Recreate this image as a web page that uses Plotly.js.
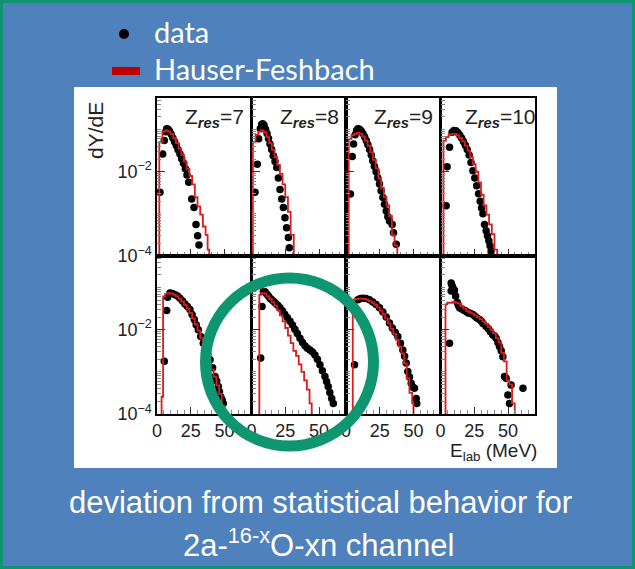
<!DOCTYPE html>
<html><head><meta charset="utf-8">
<script src="https://cdn.plot.ly/plotly-3.0.1.min.js"></script>
<style>html,body{margin:0;padding:0;background:#0E9670;} #chart{width:635px;height:569px;}</style>
</head><body><div id="chart"></div>
<script>
// ---- data (E_lab in MeV, dY/dE) ----
const zres = ['7', '8', '9', '10', '', '', '', ''];

const E_A = [2.2, 4.2, 5.4, 6.5, 7.2, 8.2, 9.3, 10.5, 11.7, 13.0, 14.3, 15.6, 17.0, 18.3, 19.6, 21.0, 22.2, 23.5, 25.7, 27.4, 28.9, 30.1, 31.1];
const Y_A = [0.00324, 0.0263, 0.0550, 0.0891, 0.105, 0.102, 0.0912, 0.0776, 0.0631, 0.0513, 0.0417, 0.0331, 0.0263, 0.0204, 0.0158, 0.0117, 0.00832, 0.00562, 0.00224, 0.00141, 0.000562, 0.000302, 0.000182];
const E_A_hf = [0.5, 1.7, 4, 6, 8, 10, 12, 14, 16, 18, 20, 22, 24, 26, 28, 30, 32, 34, 36, 37.5, 38.7];
const Y_A_hf = [1e-6, 0.0501, 0.0891, 0.0955, 0.0891, 0.0794, 0.0631, 0.0479, 0.0355, 0.0251, 0.0174, 0.0117, 0.00794, 0.00501, 0.00251, 0.00151, 0.000955, 0.000501, 0.000316, 0.000141, 1e-6];

const E_B = [2.6, 4.3, 5.3, 6.5, 7.5, 8.3, 9.3, 10.4, 11.5, 12.6, 13.7, 14.9, 16.1, 17.4, 18.7, 19.9, 21.1, 22.4, 23.6, 24.8, 26.0, 27.3, 28.0];
const Y_B = [0.00324, 0.0151, 0.0603, 0.105, 0.132, 0.138, 0.126, 0.102, 0.0813, 0.0617, 0.0457, 0.0339, 0.0240, 0.0174, 0.0126, 0.00708, 0.00380, 0.00224, 0.00141, 0.000813, 0.000468, 0.000275, 0.000158];
const E_B_hf = [0.3, 1.0, 3, 5, 7, 9, 11, 13, 15, 17, 19, 21, 23, 25, 27, 29, 31.3];
const Y_B_hf = [1e-6, 0.0501, 0.0759, 0.0912, 0.0955, 0.0871, 0.0661, 0.0479, 0.0331, 0.0224, 0.0145, 0.00891, 0.00501, 0.00251, 0.00112, 0.000316, 1e-6];

const E_C = [3.3, 4.6, 5.6, 6.8, 7.8, 8.8, 10.0, 11.2, 12.5, 13.8, 15.0, 16.2, 17.5, 18.7, 19.8, 21.0, 22.3, 23.5, 24.8, 26.0, 27.3, 28.5, 29.8, 31.0, 32.2, 34.2, 35.2, 37.2];
const Y_C = [0.00295, 0.0229, 0.0457, 0.0759, 0.0955, 0.105, 0.102, 0.0933, 0.0813, 0.0676, 0.0550, 0.0437, 0.0339, 0.0251, 0.0182, 0.0135, 0.0100, 0.00724, 0.00513, 0.00355, 0.00245, 0.00170, 0.00117, 0.000851, 0.000676, 0.000562, 0.000355, 0.000191];
const E_C_hf = [1, 2, 4, 6, 8, 10, 12, 14, 16, 18, 20, 22, 24, 26, 28, 30, 32, 34, 36, 38];
const Y_C_hf = [1e-6, 0.0603, 0.0741, 0.0794, 0.0832, 0.0794, 0.0692, 0.0550, 0.0417, 0.0288, 0.0191, 0.0120, 0.00708, 0.00417, 0.00251, 0.00158, 0.000891, 0.000316, 0.000178, 1e-6];

const E_D = [4.2, 4.9, 6.7, 8.6, 10.0, 11.4, 12.8, 14.2, 15.6, 17.0, 18.4, 19.8, 21.2, 22.6, 24.0, 25.4, 26.8, 28.2, 29.4, 30.4, 31.4, 32.6, 33.8, 34.8, 35.8, 36.7, 37.5];
const Y_D = [0.00155, 0.0132, 0.0380, 0.0871, 0.0955, 0.0933, 0.0851, 0.0741, 0.0631, 0.0525, 0.0427, 0.0339, 0.0251, 0.0166, 0.0105, 0.00708, 0.00468, 0.00302, 0.00200, 0.00138, 0.00100, 0.000562, 0.000398, 0.000302, 0.000229, 0.000174, 0.000132];
const E_D_hf = [1.5, 2.2, 4, 6, 8, 10, 12, 14, 16, 18, 20, 22, 24, 26, 28, 30, 32, 34, 36, 38, 40, 42];
const Y_D_hf = [1e-6, 0.0550, 0.0661, 0.0759, 0.0794, 0.0794, 0.0724, 0.0631, 0.0525, 0.0417, 0.0316, 0.0224, 0.0151, 0.0100, 0.00562, 0.00282, 0.00158, 0.000955, 0.000562, 0.000331, 0.000141, 1e-6];

const E_E = [5.4, 7.2, 7.9, 9.6, 11.5, 13.4, 15.2, 17.0, 18.9, 20.7, 22.6, 24.4, 26.0, 27.6, 29.0, 30.6, 32.4, 34.3, 36.0, 37.6, 39.3, 41.2, 43.0, 44.2, 45.4, 46.3, 47.2, 48.2, 49.1];
const Y_E = [0.00178, 0.0288, 0.0589, 0.0741, 0.0724, 0.0676, 0.0631, 0.0562, 0.0479, 0.0407, 0.0355, 0.0302, 0.0229, 0.0174, 0.0132, 0.0100, 0.00692, 0.00479, 0.00355, 0.00263, 0.00195, 0.00126, 0.000776, 0.000603, 0.000447, 0.000339, 0.000257, 0.000219, 0.000178];
const E_E_hf = [2.5, 3.4, 4.5, 6, 8, 10, 12, 14, 16, 18, 20, 22, 24, 26, 28, 30, 32, 34, 36, 38, 40, 42, 44, 46, 48, 50];
const Y_E_hf = [1e-6, 0.000257, 0.0617, 0.0708, 0.0741, 0.0724, 0.0676, 0.0617, 0.0550, 0.0468, 0.0389, 0.0316, 0.0251, 0.0186, 0.0135, 0.00955, 0.00631, 0.00398, 0.00263, 0.00174, 0.00115, 0.000759, 0.000479, 0.000302, 0.000158, 1e-6];

const E_F = [6.8, 7.8, 8.8, 10.0, 11.3, 12.5, 13.7, 15.0, 16.4, 17.8, 19.4, 21.1, 22.8, 24.6, 26.5, 28.5, 30.3, 32.1, 33.9, 35.9, 37.8, 39.6, 41.4, 43.3, 45.2, 47.0, 48.8, 50.7, 52.5, 54.4, 55.6, 56.8, 58.0, 59.4, 60.6];
const Y_F = [0.00214, 0.0355, 0.0813, 0.0794, 0.0708, 0.0631, 0.0562, 0.0513, 0.0468, 0.0427, 0.0380, 0.0331, 0.0282, 0.0234, 0.0195, 0.0158, 0.0129, 0.0102, 0.00813, 0.00631, 0.00501, 0.00417, 0.00363, 0.00331, 0.00295, 0.00251, 0.00200, 0.00148, 0.00107, 0.000776, 0.000589, 0.000447, 0.000324, 0.000234, 0.000178];
const E_F_hf = [4.5, 5.8, 7, 9, 11, 13, 15, 17, 19, 21, 23, 25, 27, 29, 31, 33, 35, 37, 39, 41, 43, 44.6];
const Y_F_hf = [1e-6, 0.0676, 0.0741, 0.0724, 0.0631, 0.0537, 0.0447, 0.0372, 0.0288, 0.0219, 0.0158, 0.0110, 0.00724, 0.00479, 0.00316, 0.00240, 0.00151, 0.00100, 0.000631, 0.000380, 0.000178, 1e-6];

const E_G = [6.3, 8.8, 10.6, 12.5, 14.9, 17.4, 19.8, 22.3, 24.8, 27.3, 29.8, 32.2, 34.3, 36.4, 38.4, 40.3, 42.1, 43.4, 44.6, 45.8, 47.0, 48.3, 49.5, 50.7, 52.0, 52.4];
const Y_G = [0.00148, 0.0513, 0.0550, 0.0562, 0.0550, 0.0513, 0.0457, 0.0398, 0.0331, 0.0263, 0.0200, 0.0145, 0.0110, 0.00871, 0.00692, 0.00479, 0.00331, 0.00234, 0.00162, 0.00102, 0.000759, 0.000537, 0.000437, 0.000407, 0.000234, 0.000178];
const E_G_hf = [3.8, 5, 7, 9, 11, 13, 15, 17, 19, 21, 23, 25, 27, 29, 31, 33, 35, 37, 39, 41, 43, 45, 47, 49, 50];
const Y_G_hf = [1e-6, 0.0513, 0.0537, 0.0550, 0.0550, 0.0537, 0.0513, 0.0479, 0.0437, 0.0389, 0.0339, 0.0288, 0.0234, 0.0186, 0.0141, 0.0105, 0.00794, 0.00575, 0.00398, 0.00275, 0.00158, 0.000708, 0.000316, 0.000178, 1e-6];

const E_H = [6.7, 7.9, 8.5, 9.1, 7.9, 10.3, 11.2, 12.4, 13.2, 14.1, 15.5, 17.0, 18.2, 19.0, 20.5, 22.0, 24.0, 25.5, 27.0, 28.9, 30.3, 31.5, 33.8, 35.5, 37.0, 38.7, 40.0, 41.2, 42.5, 43.7, 45.0, 46.2, 47.4, 48.6, 49.9, 51.1, 52.3, 61.1];
const Y_H = [0.00479, 0.129, 0.112, 0.100, 0.0832, 0.0871, 0.0631, 0.0447, 0.0380, 0.0331, 0.0316, 0.0295, 0.0282, 0.0275, 0.0251, 0.0245, 0.0229, 0.0209, 0.0191, 0.0174, 0.0158, 0.0141, 0.0120, 0.0105, 0.00891, 0.00759, 0.00708, 0.00631, 0.00501, 0.00398, 0.00316, 0.00229, 0.000776, 0.000708, 0.000282, 0.000178, 0.000490, 0.000407];
const E_H_hf = [2.5, 3.7, 5, 7, 9, 11, 13, 15, 17, 19, 21, 23, 25, 27, 29, 31, 33, 35, 37, 39, 41, 43, 45, 47, 49, 51, 53, 55];
const Y_H_hf = [1e-6, 0.0398, 0.0437, 0.0437, 0.0457, 0.0437, 0.0417, 0.0363, 0.0316, 0.0282, 0.0263, 0.0240, 0.0219, 0.0200, 0.0178, 0.0158, 0.0138, 0.0117, 0.0100, 0.00832, 0.00631, 0.00501, 0.00282, 0.00178, 0.000631, 0.000501, 0.000178, 1e-6];

const xTickVals = [0, 25, 50];
const xTickText = ['0', '25', '50'];
const yTickVals = [1e-4, 1e-2];
const yTickText = ['10<sup>\u22124</sup>', '10<sup>\u22122</sup>'];

const panels = [
  [E_A, Y_A, E_A_hf, Y_A_hf], [E_B, Y_B, E_B_hf, Y_B_hf],
  [E_C, Y_C, E_C_hf, Y_C_hf], [E_D, Y_D, E_D_hf, Y_D_hf],
  [E_E, Y_E, E_E_hf, Y_E_hf], [E_F, Y_F, E_F_hf, Y_F_hf],
  [E_G, Y_G, E_G_hf, Y_G_hf], [E_H, Y_H, E_H_hf, Y_H_hf]
];

// ---- geometry (pixels) ----
const W = 635, H = 569;
const fx = v => v / W, fy = v => 1 - v / H;
const left = 157, colW = 94.5, rowTops = [98, 256], rowH = 158;
const RED = '#dc1c1c';
const SANS = 'Liberation Sans, Arial, sans-serif';
const TICKFONT = {family: SANS, size: 18, color: '#222'};

const xMinor = []; for (let v = 5; v < 70; v += 5) if (v % 25) xMinor.push(v);
const yMinor = []; for (let d = -4; d <= -1; d++) for (let k = 1; k <= 9; k++) { const v = k * Math.pow(10, d); if (v < 0.56 && !(k === 1 && (d === -4 || d === -2))) yMinor.push(v); }

const traces = [];
const layout = {
  width: W, height: H, margin: {l: 0, r: 0, t: 0, b: 0},
  paper_bgcolor: '#0E9670', plot_bgcolor: 'white',
  showlegend: false, shapes: [], annotations: []
};

panels.forEach((p, i) => {
  const col = i % 4, row = Math.floor(i / 4);
  const sfx = i === 0 ? '' : String(i + 1);
  const xa = 'x' + sfx, ya = 'y' + sfx;
  traces.push({x: p[0], y: p[1], xaxis: xa, yaxis: ya, type: 'scatter', mode: 'markers',
    marker: {color: 'black', size: 7.5}, hoverinfo: 'skip'});
  traces.push({x: p[2], y: p[3], xaxis: xa, yaxis: ya, type: 'scatter', mode: 'lines',
    line: {shape: 'hv', color: RED, width: 1.8}, hoverinfo: 'skip'});
  const x0 = left + col * colW, y0 = rowTops[row];
  layout['xaxis' + sfx] = {
    domain: [fx(x0), fx(x0 + colW)], anchor: ya, range: [0, 70],
    tickmode: 'array', tickvals: xTickVals, ticktext: xTickText,
    showticklabels: row === 1, ticks: 'inside', ticklen: 7, tickwidth: 1, tickcolor: '#333',
    minor: {tickmode: 'array', tickvals: xMinor, ticks: 'inside', ticklen: 4, tickcolor: '#888', tickwidth: 1},
    showline: true, linecolor: 'black', linewidth: 1.6, mirror: true,
    showgrid: false, zeroline: false, tickfont: TICKFONT, fixedrange: true
  };
  layout['yaxis' + sfx] = {
    domain: [fy(y0 + rowH), fy(y0)], anchor: xa, type: 'log', range: [-4, -0.25],
    tickmode: 'array', tickvals: yTickVals, ticktext: yTickText,
    showticklabels: col === 0, ticks: 'inside', ticklen: 8, tickwidth: 1, tickcolor: '#333',
    minor: {tickmode: 'array', tickvals: yMinor, ticks: 'inside', ticklen: 4, tickcolor: '#888', tickwidth: 1},
    showline: true, linecolor: 'black', linewidth: 1.6, mirror: true,
    showgrid: false, zeroline: false, tickfont: TICKFONT, fixedrange: true
  };
  if (zres[i]) {
    layout.annotations.push({xref: 'paper', yref: 'paper', x: fx(x0 + (col === 3 ? 22 : 26)), y: fy(118),
      xanchor: 'left', yanchor: 'middle', showarrow: false,
      text: 'Z<sub><i><b>res</b></i></sub>=' + zres[i],
      font: {family: SANS, size: 21, color: '#222'}});
  }
});

// backgrounds
layout.shapes.push({type: 'rect', xref: 'paper', yref: 'paper', layer: 'below',
  x0: fx(3), x1: fx(632), y0: fy(566), y1: fy(3), fillcolor: '#4F81BD', line: {width: 0}});
layout.shapes.push({type: 'rect', xref: 'paper', yref: 'paper', layer: 'below',
  x0: fx(74), x1: fx(557), y0: fy(468), y1: fy(87), fillcolor: 'white', line: {width: 0}});
// legend marks
layout.shapes.push({type: 'circle', xref: 'paper', yref: 'paper', layer: 'above',
  x0: fx(119), x1: fx(129), y0: fy(39), y1: fy(29), fillcolor: 'black', line: {width: 0}});
layout.shapes.push({type: 'rect', xref: 'paper', yref: 'paper', layer: 'above',
  x0: fx(112), x1: fx(140), y0: fy(75), y1: fy(67), fillcolor: '#C00000', line: {width: 0}});
// highlight circle
const cx = 289.5, cy = 362, r = 84;
layout.shapes.push({type: 'circle', xref: 'paper', yref: 'paper', layer: 'above',
  x0: fx(cx - r), x1: fx(cx + r), y0: fy(cy + r), y1: fy(cy - r),
  line: {color: '#0E9670', width: 11}, fillcolor: 'rgba(0,0,0,0)'});

const ann = (x, y, text, size, color, family, extra) => layout.annotations.push(Object.assign({
  xref: 'paper', yref: 'paper', x: fx(x), y: fy(y), text: text, showarrow: false,
  xanchor: 'center', yanchor: 'middle', font: {size: size, color: color, family: family}}, extra || {}));

ann(95, 131, 'dY/dE', 21, '#222', SANS, {textangle: -90});
ann(539, 452, 'E<sub>lab</sub> (MeV)', 19, '#222', SANS, {xanchor: 'right'});
ann(152, 31, 'data', 29, 'white', 'Lato, Carlito, sans-serif', {xanchor: 'left'});
ann(152, 68, 'Hauser-Feshbach', 29, 'white', 'Lato, Carlito, sans-serif', {xanchor: 'left'});
ann(320, 503, 'deviation from statistical behavior for', 31, 'white', SANS);
ann(319, 543, '2a-<sup>16-x</sup>O-xn channel', 31, 'white', SANS);

Plotly.newPlot('chart', traces, layout, {staticPlot: true, displayModeBar: false});
</script>
</body></html>
